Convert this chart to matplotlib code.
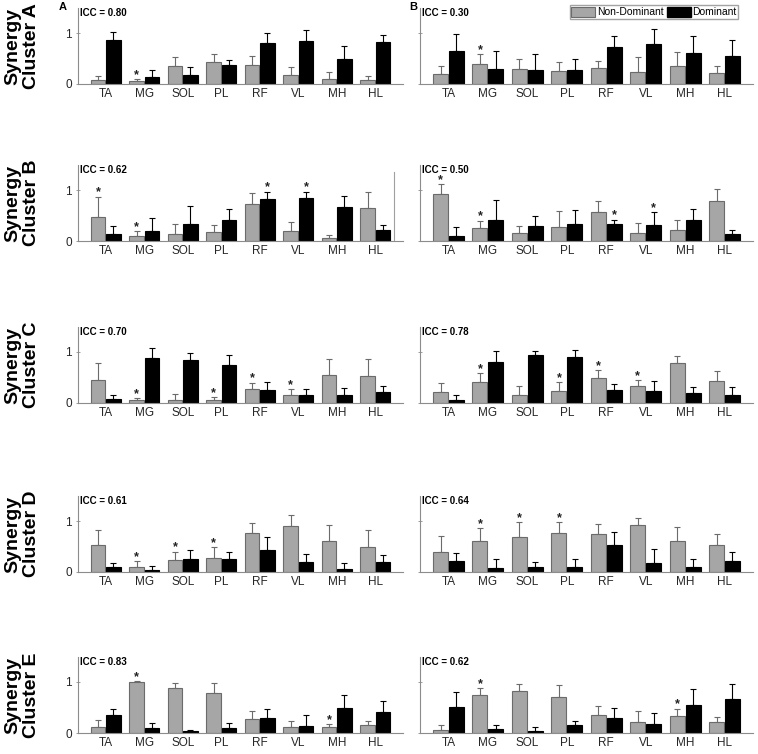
import matplotlib
matplotlib.use("Agg")
import matplotlib.pyplot as plt
from matplotlib.lines import Line2D
from matplotlib.patches import Patch

plt.rcParams["font.family"] = ["Liberation Sans", "DejaVu Sans"]

muscles = ["TA", "MG", "SOL", "PL", "RF", "VL", "MH", "HL"]
clusters = ["A", "B", "C", "D", "E"]

# panel A (left column): rows are clusters A..E
a_nd_mean = [
    [0.07, 0.05, 0.36, 0.43, 0.37, 0.18, 0.10, 0.08],
    [0.47, 0.09, 0.14, 0.17, 0.72, 0.20, 0.05, 0.65],
    [0.45, 0.05, 0.06, 0.05, 0.27, 0.16, 0.55, 0.53],
    [0.52, 0.10, 0.23, 0.28, 0.77, 0.91, 0.61, 0.49],
    [0.11, 1.00, 0.89, 0.78, 0.28, 0.11, 0.11, 0.15],
]
a_nd_sd = [
    [0.08, 0.05, 0.17, 0.16, 0.18, 0.15, 0.13, 0.07],
    [0.40, 0.11, 0.20, 0.14, 0.22, 0.17, 0.06, 0.32],
    [0.33, 0.04, 0.11, 0.06, 0.13, 0.12, 0.32, 0.34],
    [0.31, 0.11, 0.17, 0.21, 0.20, 0.20, 0.31, 0.33],
    [0.15, 0.01, 0.10, 0.20, 0.16, 0.12, 0.06, 0.09],
]
a_d_mean = [
    [0.87, 0.13, 0.18, 0.37, 0.81, 0.85, 0.50, 0.83],
    [0.13, 0.20, 0.33, 0.41, 0.83, 0.84, 0.67, 0.22],
    [0.07, 0.89, 0.85, 0.75, 0.26, 0.15, 0.15, 0.21],
    [0.09, 0.03, 0.25, 0.26, 0.43, 0.19, 0.05, 0.20],
    [0.36, 0.09, 0.03, 0.10, 0.29, 0.14, 0.50, 0.42],
]
a_d_sd = [
    [0.14, 0.15, 0.16, 0.11, 0.19, 0.21, 0.24, 0.13],
    [0.16, 0.25, 0.35, 0.21, 0.14, 0.13, 0.22, 0.10],
    [0.08, 0.19, 0.14, 0.19, 0.15, 0.12, 0.15, 0.13],
    [0.09, 0.08, 0.19, 0.13, 0.26, 0.17, 0.12, 0.14],
    [0.12, 0.10, 0.03, 0.10, 0.18, 0.22, 0.24, 0.21],
]
a_icc = [0.80, 0.62, 0.70, 0.61, 0.83]

# panel B (right column)
b_nd_mean = [
    [0.19, 0.39, 0.30, 0.26, 0.32, 0.23, 0.35, 0.21],
    [0.92, 0.25, 0.16, 0.27, 0.56, 0.16, 0.22, 0.78],
    [0.21, 0.41, 0.15, 0.24, 0.49, 0.33, 0.78, 0.43],
    [0.40, 0.60, 0.68, 0.77, 0.75, 0.93, 0.60, 0.52],
    [0.06, 0.75, 0.83, 0.70, 0.36, 0.21, 0.34, 0.21],
]
b_nd_sd = [
    [0.17, 0.19, 0.20, 0.17, 0.13, 0.29, 0.28, 0.15],
    [0.20, 0.15, 0.13, 0.31, 0.22, 0.19, 0.20, 0.23],
    [0.18, 0.17, 0.19, 0.17, 0.16, 0.12, 0.15, 0.19],
    [0.30, 0.26, 0.30, 0.21, 0.20, 0.13, 0.29, 0.23],
    [0.09, 0.13, 0.14, 0.24, 0.16, 0.22, 0.14, 0.11],
]
b_d_mean = [
    [0.65, 0.29, 0.28, 0.28, 0.72, 0.79, 0.61, 0.55],
    [0.10, 0.42, 0.29, 0.33, 0.33, 0.32, 0.42, 0.13],
    [0.05, 0.81, 0.95, 0.91, 0.26, 0.23, 0.19, 0.15],
    [0.21, 0.08, 0.09, 0.09, 0.52, 0.17, 0.09, 0.22],
    [0.51, 0.07, 0.04, 0.15, 0.29, 0.18, 0.54, 0.67],
]
b_d_sd = [
    [0.34, 0.36, 0.31, 0.22, 0.23, 0.29, 0.34, 0.31],
    [0.17, 0.38, 0.21, 0.27, 0.09, 0.25, 0.21, 0.09],
    [0.10, 0.21, 0.06, 0.12, 0.11, 0.20, 0.12, 0.16],
    [0.17, 0.17, 0.11, 0.16, 0.27, 0.29, 0.16, 0.18],
    [0.29, 0.08, 0.07, 0.08, 0.21, 0.21, 0.33, 0.30],
]
b_icc = [0.30, 0.50, 0.78, 0.64, 0.62]

# significance markers: (cluster row, muscle, group) - same in both panels
stars = [
    (0, "MG", "nd"),
    (1, "TA", "nd"), (1, "MG", "nd"), (1, "RF", "d"), (1, "VL", "d"),
    (2, "MG", "nd"), (2, "PL", "nd"), (2, "RF", "nd"), (2, "VL", "nd"),
    (3, "MG", "nd"), (3, "SOL", "nd"), (3, "PL", "nd"),
    (4, "MG", "nd"), (4, "MH", "nd"),
]

GRAY = "#a6a6a6"
GRAY_EDGE = "#6b6b6b"
SPINE = "#8c8c8c"
W, H = 758, 754
zero_px = [84, 241, 403, 572, 733]
ax_h = 76.5
columns = [
    (78, 325, a_nd_mean, a_nd_sd, a_d_mean, a_d_sd, a_icc, True),
    (420, 333, b_nd_mean, b_nd_sd, b_d_mean, b_d_sd, b_icc, False),
]

fig = plt.figure(figsize=(W / 100, H / 100), dpi=100)
x = list(range(1, len(muscles) + 1))
off, bw = 0.2, 0.38

for x0, width, nd_m, nd_s, d_m, d_s, icc, show_y in columns:
    for r, zero in enumerate(zero_px):
        ax = fig.add_axes([x0 / W, 1 - zero / H, width / W, ax_h / H])
        xn = [v - off for v in x]
        xd = [v + off for v in x]
        ax.bar(xn, nd_m[r], bw, color=GRAY, edgecolor=GRAY_EDGE, linewidth=0.8, zorder=2)
        ax.bar(xd, d_m[r], bw, color="black", edgecolor="black", linewidth=0.8, zorder=2)
        ax.errorbar(xn, nd_m[r], yerr=[[0] * 8, nd_s[r]], fmt="none", ecolor=GRAY_EDGE,
                    elinewidth=0.8, capsize=2, capthick=0.8, zorder=1)
        ax.errorbar(xd, d_m[r], yerr=[[0] * 8, d_s[r]], fmt="none", ecolor="black",
                    elinewidth=0.8, capsize=2, capthick=0.8, zorder=1)
        for row, mus, grp in stars:
            if row != r:
                continue
            i = muscles.index(mus)
            if grp == "nd":
                xs, top = xn[i], nd_m[r][i] + nd_s[r][i]
            else:
                xs, top = xd[i], d_m[r][i] + d_s[r][i]
            ax.text(xs, top + 0.02, "*", ha="center", va="baseline", fontsize=9,
                    fontweight="bold", color="#222222")

        ax.set_xlim(0.28, 8.72)
        ax.set_ylim(0, 1.5)
        ax.set_xticks(x)
        ax.set_xticklabels(muscles, fontsize=8.5, color="#262626")
        ax.tick_params(axis="x", length=0, pad=3)
        ax.set_yticks([0, 1])
        if show_y:
            ax.set_yticklabels(["0", "1"], fontsize=8.5, color="#262626")
        else:
            ax.set_yticklabels([])
        ax.tick_params(axis="y", direction="inout", length=3, width=0.6, color=SPINE, pad=3)
        for s in ["top", "right"]:
            ax.spines[s].set_visible(False)
        for s in ["left", "bottom"]:
            ax.spines[s].set_color(SPINE)
            ax.spines[s].set_linewidth(0.8)
        ax.text(0.005, 0.927, f"ICC = {icc[r]:.2f}", transform=ax.transAxes,
                ha="left", va="center", fontsize=7, fontweight="bold")

for r, zero in enumerate(zero_px):
    fig.text(22 / W, 1 - (zero - 38) / H, f"Synergy\nCluster {clusters[r]}", rotation=90,
             ha="center", va="center", fontsize=14, fontweight="bold",
             multialignment="center", linespacing=1.15)

fig.text(63 / W, 1 - 7 / H, "A", ha="center", va="center", fontsize=8, fontweight="bold")
fig.text(413 / W, 1 - 7 / H, "B", ha="center", va="center", fontsize=8, fontweight="bold")

# stray vertical line between the cluster B panels
fig.add_artist(Line2D([394 / W, 394 / W], [1 - 172 / H, 1 - 240 / H], color="#a0a0a0", linewidth=0.8))

handles = [Patch(facecolor=GRAY, edgecolor=GRAY_EDGE, linewidth=0.8),
           Patch(facecolor="black", edgecolor="black")]
fig.legend(handles, ["Non-Dominant", "Dominant"], loc="upper right", ncol=2,
           bbox_to_anchor=(738 / W, 1 - 5 / H), bbox_transform=fig.transFigure,
           fontsize=7.5, frameon=True, fancybox=False, edgecolor="#8c8c8c",
           borderpad=0.15, handlelength=2.3, handleheight=1.1, handletextpad=0.15,
           columnspacing=0.3, borderaxespad=0)

fig.savefig("out.png", dpi=100)
